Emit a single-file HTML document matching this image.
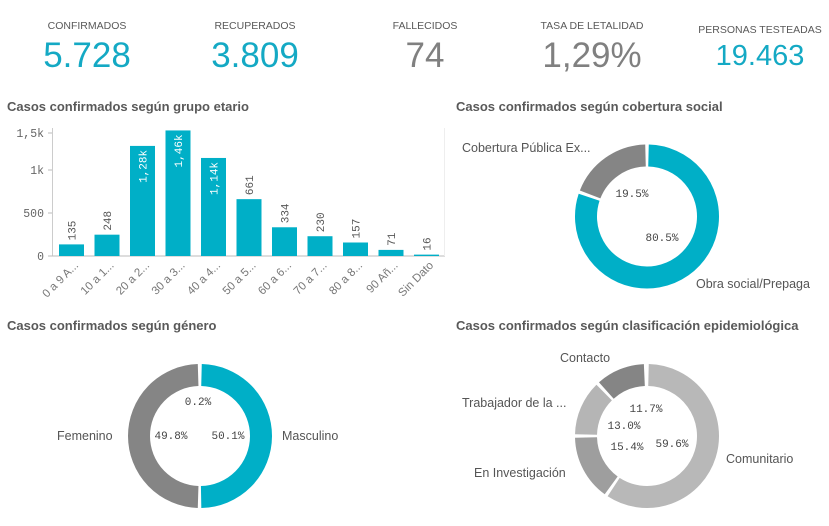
<!DOCTYPE html>
<html><head><meta charset="utf-8"><style>
body{margin:0;width:829px;height:526px;background:#fff;overflow:hidden;font-family:"Liberation Sans",sans-serif}
svg{display:block}
</style></head><body>
<svg id="s" width="829" height="526" xmlns="http://www.w3.org/2000/svg" font-family="Liberation Sans, sans-serif">
<g fill="#595959" font-size="10.5" text-anchor="middle">
<text x="87" y="29">CONFIRMADOS</text>
<text x="255" y="29">RECUPERADOS</text>
<text x="425" y="29">FALLECIDOS</text>
<text x="592" y="29">TASA DE LETALIDAD</text>
<text x="760" y="33">PERSONAS TESTEADAS</text>
</g>
<g font-size="35" text-anchor="middle">
<text x="87" y="67" fill="#14a9c4">5.728</text>
<text x="255" y="67" fill="#14a9c4">3.809</text>
<text x="425" y="67" fill="#808080">74</text>
<text x="592" y="67" fill="#808080">1,29%</text>
<text x="760" y="65" fill="#14a9c4" font-size="29">19.463</text>
</g>
<g fill="#595959" font-size="13" font-weight="bold">
<text x="7" y="111">Casos confirmados según grupo etario</text>
<text x="456" y="111">Casos confirmados según cobertura social</text>
<text x="7" y="330">Casos confirmados según género</text>
<text x="456" y="330">Casos confirmados según clasificación epidemiológica</text>
</g>
<line x1="52.5" y1="128" x2="52.5" y2="256" stroke="#ccc"/>
<line x1="52" y1="256" x2="445" y2="256" stroke="#bbb"/>
<line x1="444.5" y1="128" x2="444.5" y2="256" stroke="#eee"/>
<g stroke="#bbb"><line x1="48" y1="133" x2="52" y2="133"/><line x1="48" y1="170" x2="52" y2="170"/><line x1="48" y1="213" x2="52" y2="213"/><line x1="48" y1="256" x2="52" y2="256"/></g>
<g fill="#666" font-size="11.5" text-anchor="end" font-family="Liberation Mono, monospace">
<text x="44" y="137">1,5k</text><text x="44" y="174">1k</text><text x="44" y="217">500</text><text x="44" y="260">0</text>
</g>
<g id="bars"></g>
<g id="donuts"></g>
<g fill="#555" font-size="12.5">
<text x="462" y="152">Cobertura Pública Ex...</text>
<text x="696" y="288">Obra social/Prepaga</text>
<text x="57" y="440">Femenino</text>
<text x="282" y="440">Masculino</text>
<text x="560" y="362">Contacto</text>
<text x="462" y="407">Trabajador de la ...</text>
<text x="474" y="477">En Investigación</text>
<text x="726" y="463">Comunitario</text>
</g>
<g fill="#444" font-size="11" font-family="Liberation Mono, monospace" text-anchor="middle">
<text x="632" y="197">19.5%</text>
<text x="662" y="241">80.5%</text>
<text x="198" y="405">0.2%</text>
<text x="171" y="439">49.8%</text>
<text x="228" y="439">50.1%</text>
<text x="646" y="412">11.7%</text>
<text x="624" y="429">13.0%</text>
<text x="627" y="450">15.4%</text>
<text x="672" y="447">59.6%</text>
</g>
</svg>
<script>
var NS="http://www.w3.org/2000/svg";
function el(p,t,a,txt){var e=document.createElementNS(NS,t);for(var k in a)e.setAttribute(k,a[k]);if(txt!==undefined)e.textContent=txt;p.appendChild(e);return e;}
var vals=[135,248,1280,1460,1140,661,334,230,157,71,16],lab=["135","248","1,28k","1,46k","1,14k","661","334","230","157","71","16"],
cats=["0 a 9 A...","10 a 1...","20 a 2...","30 a 3...","40 a 4...","50 a 5...","60 a 6...","70 a 7...","80 a 8...","90 Añ...","Sin Dato"];
var g=document.getElementById("bars");
for(var i=0;i<11;i++){var x=59+i*35.5,h=vals[i]*0.086,y=256-h;
el(g,"rect",{x:x,y:y,width:25,height:h,fill:"#00afc7"});
var inside=vals[i]>1000;var cx=x+12.5+4,ty=inside?y+4:y-4;
el(g,"text",{x:cx,y:ty,fill:inside?"#fff":"#555","font-size":"11","font-family":"Liberation Mono, monospace","text-anchor":inside?"end":"start",transform:"rotate(-90 "+cx+" "+ty+")"},lab[i]);
var lx=x+20,ly=266;
el(g,"text",{x:lx,y:ly,fill:"#777","font-size":"11.5","text-anchor":"end",transform:"rotate(-45 "+lx+" "+ly+")"},cats[i]);}
var d=document.getElementById("donuts");
function arc(cx,cy,a0,a1,col){var r=61,gap=1.5/r;a0+=gap;a1-=gap;if(a1<=a0)return;
var x0=cx+r*Math.sin(a0),y0=cy-r*Math.cos(a0),x1=cx+r*Math.sin(a1),y1=cy-r*Math.cos(a1);
el(d,"path",{d:"M"+x0+" "+y0+" A"+r+" "+r+" 0 "+((a1-a0)>Math.PI?1:0)+" 1 "+x1+" "+y1,fill:"none",stroke:col,"stroke-width":22});}
function donut(cx,cy,parts){var a=0;parts.forEach(function(p){var b=a+p[0]*2*Math.PI/100;arc(cx,cy,a,b,p[1]);a=b;});}
donut(647,216.5,[[80.5,"#00afc7"],[19.5,"#858585"]]);
donut(200,436,[[50.1,"#00afc7"],[49.8,"#858585"],[0.1,"#bbb"]]);
donut(647,436,[[59.6,"#b8b8b8"],[15.4,"#9e9e9e"],[13.0,"#b5b5b5"],[11.7,"#858585"]]);
</script>
</body></html>
